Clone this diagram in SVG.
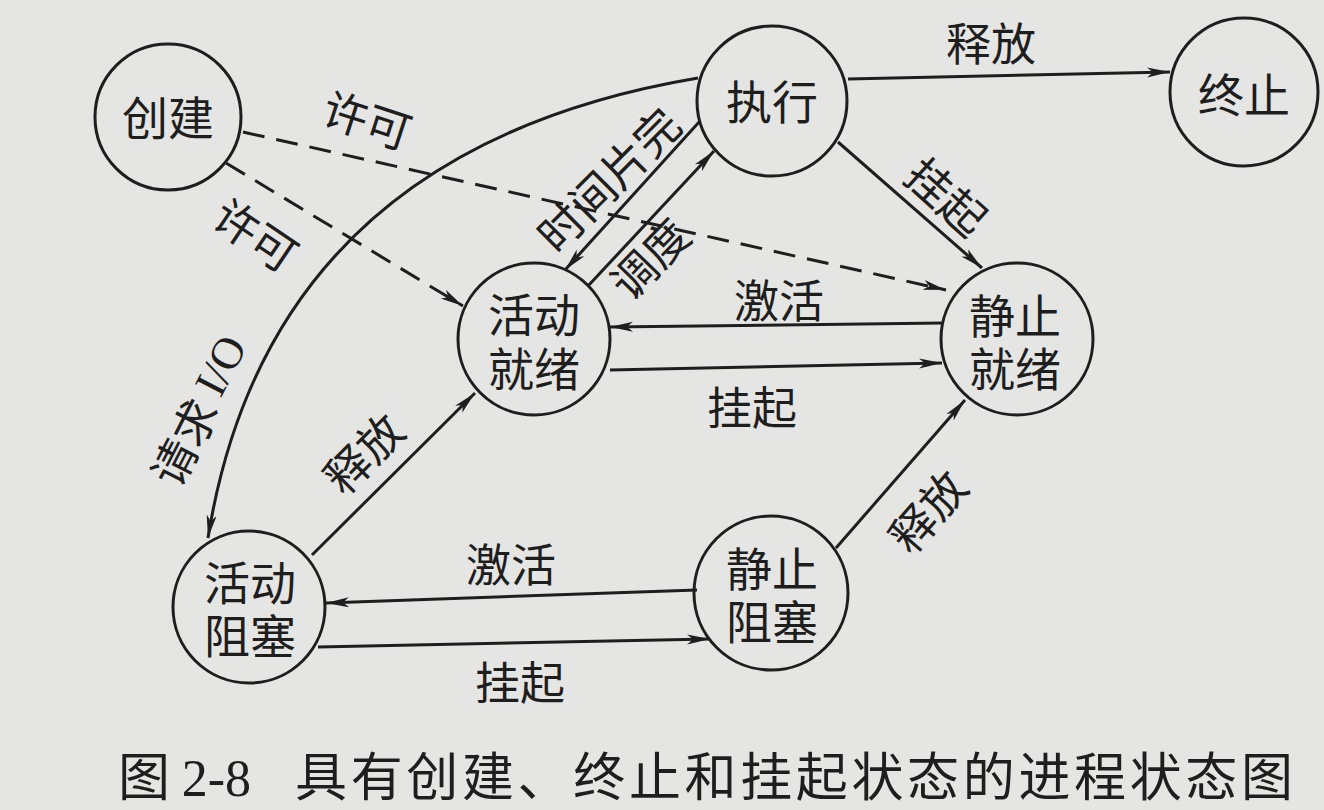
<svg xmlns="http://www.w3.org/2000/svg" width="1324" height="810" viewBox="0 0 1324 810">
<style>
.bg{fill:#e5e5e3}
.node circle{fill:none;stroke:#1e1e1e;stroke-width:3}
.node text,.lbl{font-family:"Noto Sans CJK SC","Liberation Serif",sans-serif;fill:#1e1e1e;text-anchor:middle;dominant-baseline:central}
.node text{font-size:46px}
.lbl{font-size:45px}
.edge{fill:none;stroke:#1e1e1e;stroke-width:3;marker-end:url(#arr)}
.dash{stroke-dasharray:22 12}
.cap{font-family:"Noto Sans CJK SC",sans-serif;font-size:52px;fill:#1e1e1e}
.latin{font-family:"Liberation Serif",serif}
</style>
<defs>
<marker id="arr" markerUnits="userSpaceOnUse" markerWidth="24" markerHeight="12" refX="23" refY="5" orient="auto">
<path d="M0,0 L23,5 L0,10 L6,5 z" fill="#1e1e1e"/>
</marker>
</defs>
<rect class="bg" x="0" y="0" width="1324" height="810"/>
<g id="connectors">
<path class="edge dash" d="M243,132 L946,290"/>
<path class="edge dash" d="M226,163 L463,306"/>
<path class="edge" d="M848,79 L1170,72"/>
<path class="edge" d="M838,142 L982,268"/>
<path class="edge" d="M698,78 Q270,150 208,538"/>
<path class="edge" d="M700,121 L565,270"/>
<path class="edge" d="M588,286 L714,151"/>
<path class="edge" d="M943,323 L610,327"/>
<path class="edge" d="M610,370 L942,363"/>
<path class="edge" d="M312,555 L475,393"/>
<path class="edge" d="M697,590 L326,603"/>
<path class="edge" d="M318,647 L710,639"/>
<path class="edge" d="M836,548 L965,400"/>
</g>
<g id="labels">
<text class="lbl" transform="translate(368,118) rotate(18)">许可</text>
<text class="lbl" transform="translate(257,233) rotate(34)">许可</text>
<text class="lbl" x="991" y="41">释放</text>
<text class="lbl" transform="translate(948,195) rotate(42)">挂起</text>
<text class="lbl" transform="translate(198,410) rotate(-63)">请求 <tspan class="latin">I/O</tspan></text>
<text class="lbl" transform="translate(607,178) rotate(-45)">时间片完</text>
<text class="lbl" transform="translate(648,257) rotate(-46)">调度</text>
<text class="lbl" x="779" y="298">激活</text>
<text class="lbl" x="752" y="405">挂起</text>
<text class="lbl" transform="translate(362,452) rotate(-45)">释放</text>
<text class="lbl" transform="translate(926,510) rotate(-49)">释放</text>
<text class="lbl" x="511" y="562">激活</text>
<text class="lbl" x="520" y="680">挂起</text>
</g>
<g id="n-create" class="node"><circle cx="168" cy="117" r="73"/><text x="168" y="115">创建</text></g>
<g id="n-run" class="node"><circle cx="772" cy="101" r="75"/><text x="772" y="99">执行</text></g>
<g id="n-exit" class="node"><circle cx="1244" cy="92" r="74"/><text x="1244" y="92">终止</text></g>
<g id="n-readya" class="node"><circle cx="534" cy="339" r="76"/><text><tspan x="534" y="312">活动</tspan><tspan x="534" y="366">就绪</tspan></text></g>
<g id="n-readys" class="node"><circle cx="1017" cy="339" r="76"/><text><tspan x="1015" y="313">静止</tspan><tspan x="1015" y="366">就绪</tspan></text></g>
<g id="n-blocka" class="node"><circle cx="249" cy="607" r="76"/><text><tspan x="250" y="580">活动</tspan><tspan x="250" y="633">阻塞</tspan></text></g>
<g id="n-blocks" class="node"><circle cx="771" cy="593" r="77"/><text><tspan x="772" y="566">静止</tspan><tspan x="772" y="619">阻塞</tspan></text></g>
<text class="cap" x="118" y="796">图 <tspan class="latin">2-8</tspan><tspan x="295" textLength="998" lengthAdjust="spacing">具有创建、终止和挂起状态的进程状态图</tspan></text>
</svg>
